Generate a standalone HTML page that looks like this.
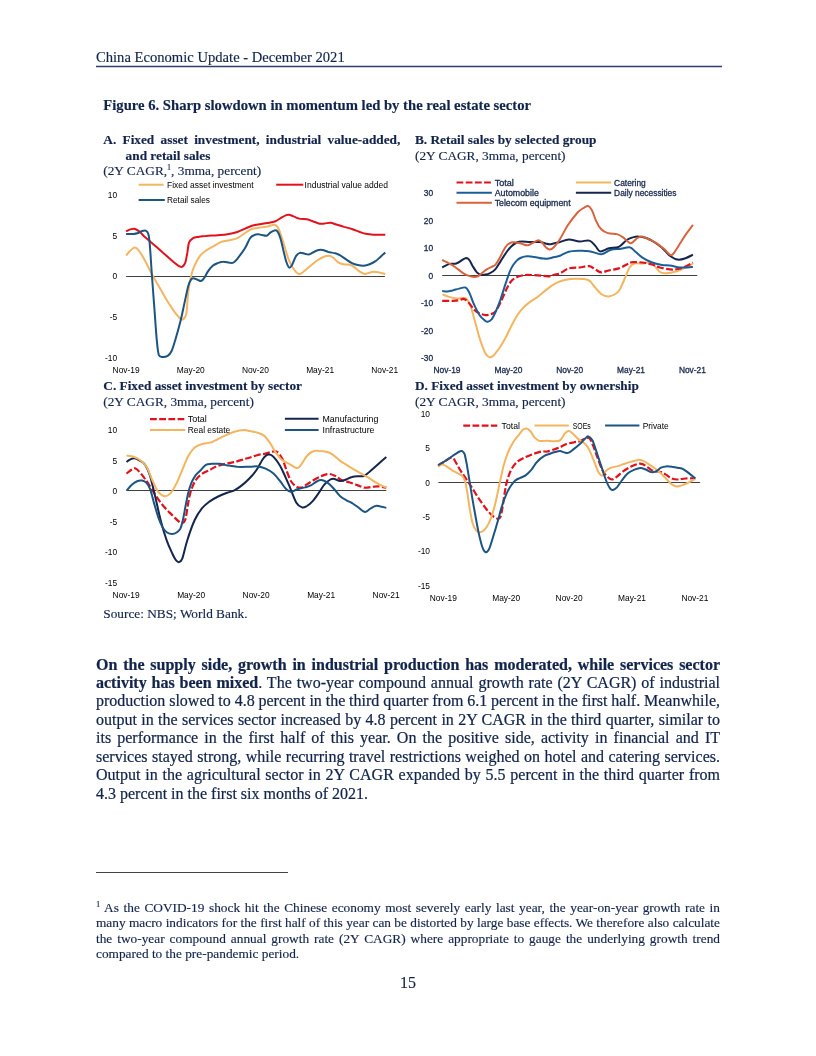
<!DOCTYPE html>
<html><head><meta charset="utf-8">
<style>
html,body{margin:0;padding:0;background:#fff;}
body{width:816px;height:1056px;position:relative;overflow:hidden;font-family:"Liberation Serif",serif;color:#12244b;-webkit-text-stroke:0.15px #12244b;}
.abs{position:absolute;white-space:nowrap;}
#hdr{left:96px;top:49px;font-size:14.62px;line-height:17px;}
#figtitle{left:103.3px;top:97px;font-size:14.67px;font-weight:bold;line-height:16px;}
.pt{position:absolute;font-size:13.3px;line-height:15.5px;}
.pt b{font-weight:bold;}
#body{-webkit-text-stroke:0.22px #12244b;position:absolute;left:96px;top:655.5px;width:624px;font-size:16px;line-height:18.45px;white-space:nowrap;}
#fnline{position:absolute;left:96px;top:872px;width:192px;height:1px;background:#444;}
#fn{position:absolute;left:96px;top:900px;width:624px;font-size:13.33px;line-height:15.3px;white-space:nowrap;}
#fn sup{font-size:8.5px;vertical-align:baseline;position:relative;top:-5px;line-height:0;}
#pg{left:400px;top:974px;font-size:16px;line-height:18px;}
svg text{font-family:"Liberation Sans","DejaVu Sans",sans-serif;}
</style></head><body>
<div id="hdr" class="abs">China Economic Update - December 2021</div>

<div id="figtitle" class="abs">Figure 6. Sharp slowdown in momentum led by the real estate sector</div>

<div class="pt" id="ta" style="left:103.3px;top:132px;width:297px;"><div style="text-align:justify;text-align-last:justify;font-weight:bold;">A. Fixed asset investment, industrial value-added,</div><div style="padding-left:22.3px;font-weight:bold;">and retail sales</div><div>(2Y CAGR,<sup style="font-size:8px;vertical-align:baseline;position:relative;top:-5px;">1</sup>, 3mma, percent)</div></div>
<div class="pt" id="tb" style="left:415px;top:132px;white-space:nowrap;"><div style="font-weight:bold;">B. Retail sales by selected group</div><div>(2Y CAGR, 3mma, percent)</div></div>
<div class="pt" id="tc" style="left:103.3px;top:378px;white-space:nowrap;"><div style="font-weight:bold;">C. Fixed asset investment by sector</div><div>(2Y CAGR, 3mma, percent)</div></div>
<div class="pt" id="td" style="left:415px;top:378px;white-space:nowrap;"><div style="font-weight:bold;">D. Fixed asset investment by ownership</div><div>(2Y CAGR, 3mma, percent)</div></div>
<div class="abs" id="src" style="left:103.3px;top:606px;font-size:13.3px;line-height:16px;">Source: NBS; World Bank.</div>

<svg id="rules" width="816" height="1056" style="position:absolute;left:0;top:0;"><line x1="96" y1="66.4" x2="722" y2="66.4" stroke="#2d3f6e" stroke-width="1.5"/></svg>
<svg id="charts" width="816" height="1056" style="position:absolute;left:0;top:0;">
<g id="chartA">
<line x1="126.1" y1="276.5" x2="384.9" y2="276.5" stroke="#404040" stroke-width="1.0"/>
<path d="M126.1,255.5C126.8,254.7 128.9,251.9 130.4,250.6C131.9,249.2 133.4,247.4 134.9,247.5C136.4,247.5 137.5,248.8 139.2,251.0C140.9,253.2 143.1,257.2 145.1,260.8C147.1,264.4 148.7,268.3 151.0,272.5C153.3,276.8 156.2,281.7 158.8,286.3C161.4,290.8 164.1,295.8 166.7,300.0C169.3,304.2 172.2,308.7 174.5,311.8C176.8,314.9 178.9,317.4 180.4,318.6C181.5,319.6 182.4,320.0 183.3,319.2C184.3,318.4 185.7,316.8 186.3,313.7C187.1,309.2 187.5,298.0 188.2,292.2C189.0,286.3 189.6,282.7 190.6,278.4C191.6,274.2 192.5,270.4 194.1,266.7C195.7,262.9 198.0,258.6 200.0,255.9C202.0,253.2 203.6,252.2 205.9,250.6C208.2,249.0 211.1,247.5 213.7,246.1C216.3,244.6 219.0,242.7 221.6,241.8C224.2,240.8 226.8,240.8 229.4,240.2C232.0,239.6 233.8,240.0 237.3,238.2C240.7,236.5 246.6,231.5 250.0,229.8C253.4,228.1 254.9,228.6 257.8,228.0C260.8,227.5 265.2,227.0 267.6,226.5C270.1,225.9 271.2,225.1 272.5,224.9C273.9,224.7 274.5,224.5 275.5,225.1C276.5,225.7 277.5,226.6 278.4,228.4C279.4,230.3 280.2,232.8 281.4,236.3C282.5,239.7 284.0,244.9 285.3,249.0C286.6,253.1 287.7,257.4 289.2,260.8C290.7,264.2 292.5,267.4 294.1,269.6C295.8,271.8 297.5,273.7 299.0,274.1C300.5,274.5 301.3,273.3 302.9,272.2C304.6,271.0 306.5,269.2 308.8,267.3C311.1,265.4 314.1,262.6 316.7,260.8C319.3,259.0 322.4,257.3 324.5,256.5C326.6,255.6 327.9,255.5 329.4,255.7C330.9,255.9 331.9,256.7 333.3,257.8C334.8,259.0 336.6,261.3 338.2,262.4C339.9,263.4 341.2,263.9 343.1,264.3C345.1,264.7 348.0,264.2 350.0,264.7C352.0,265.3 353.3,266.5 354.9,267.6C356.5,268.8 358.2,270.5 359.8,271.6C361.4,272.6 363.2,273.7 364.7,273.9C366.2,274.2 367.2,273.3 368.6,272.9C370.1,272.6 371.7,271.8 373.5,271.8C375.3,271.7 377.5,272.2 379.4,272.5C381.4,272.9 384.3,273.9 385.3,274.1" fill="none" stroke="#f3b55f" stroke-width="2.0" stroke-linejoin="round" stroke-linecap="butt"/>
<path d="M126.1,231.4C126.8,231.0 129.0,229.8 130.4,229.4C131.8,229.0 132.8,228.5 134.3,228.8C135.8,229.2 137.4,230.0 139.2,231.4C141.0,232.8 143.1,235.5 145.1,237.3C147.1,239.1 148.7,240.2 151.0,242.2C153.3,244.1 156.2,246.7 158.8,249.0C161.4,251.3 164.1,253.6 166.7,255.9C169.3,258.2 172.4,261.0 174.5,262.7C176.6,264.5 178.1,265.6 179.4,266.3C180.7,266.9 181.4,267.3 182.4,266.7C183.3,266.1 184.5,265.0 185.3,262.7C186.1,260.5 186.6,256.4 187.3,252.9C187.9,249.5 188.2,244.6 189.2,242.2C190.2,239.7 191.7,239.1 193.1,238.2C194.6,237.4 195.9,237.3 198.0,236.9C200.2,236.5 202.6,236.1 205.9,235.9C209.2,235.6 214.1,235.6 217.6,235.3C221.2,235.0 224.2,234.9 227.5,234.3C230.7,233.8 233.5,233.3 237.3,232.0C241.0,230.7 246.6,227.7 250.0,226.5C253.4,225.2 254.9,225.1 257.8,224.5C260.8,223.9 264.7,223.5 267.6,222.9C270.6,222.4 273.2,222.1 275.5,221.2C277.8,220.3 279.6,218.7 281.4,217.6C283.2,216.6 285.0,215.6 286.3,215.1C287.6,214.6 288.1,214.5 289.2,214.7C290.4,214.9 291.5,215.4 293.1,216.1C294.8,216.7 296.7,218.1 299.0,218.6C301.3,219.2 304.6,218.8 306.9,219.2C309.2,219.6 310.6,220.4 312.7,221.2C314.9,221.9 317.6,223.3 319.6,223.7C321.6,224.1 322.7,223.7 324.5,223.5C326.3,223.4 328.4,222.6 330.4,222.7C332.4,222.9 334.0,223.8 336.3,224.5C338.6,225.2 341.5,226.1 344.1,226.9C346.7,227.6 349.3,228.2 352.0,229.0C354.6,229.9 357.5,231.2 359.8,232.0C362.1,232.7 363.4,233.3 365.7,233.7C368.0,234.2 370.3,234.5 373.5,234.7C376.8,234.9 383.3,234.7 385.3,234.7" fill="none" stroke="#e2111c" stroke-width="2.0" stroke-linejoin="round" stroke-linecap="butt"/>
<path d="M126.1,233.9C127.3,233.9 131.5,234.0 133.3,233.9C135.2,233.8 135.8,233.8 137.3,233.3C138.7,232.8 140.7,231.4 142.2,231.0C143.6,230.6 145.0,230.2 146.1,230.8C147.1,231.3 147.9,232.3 148.4,234.3C149.1,237.0 149.5,240.7 150.0,247.1C150.6,254.1 151.2,266.0 152.0,276.5C152.7,286.9 153.7,299.0 154.5,309.8C155.3,320.6 156.1,333.7 156.9,341.2C157.5,348.1 158.0,352.3 158.8,354.9C159.4,356.6 160.3,356.7 161.8,356.9C163.2,357.0 166.0,356.9 167.6,355.9C169.3,354.9 170.3,353.8 171.6,351.0C172.9,348.2 174.0,344.1 175.5,339.2C177.0,334.3 178.9,327.5 180.4,321.6C181.9,315.7 183.0,309.8 184.3,303.9C185.6,298.0 187.1,290.4 188.2,286.3C189.2,282.7 190.2,280.7 191.2,279.4C192.1,278.2 193.0,278.3 194.1,278.4C195.3,278.5 196.9,279.6 198.0,280.0C199.2,280.4 200.0,281.2 201.0,281.0C202.0,280.7 202.8,280.0 203.9,278.4C205.1,276.9 206.4,273.7 207.8,271.6C209.3,269.4 211.1,267.1 212.7,265.7C214.4,264.3 215.8,263.8 217.6,263.1C219.4,262.5 221.6,261.8 223.5,261.8C225.5,261.7 227.8,262.6 229.4,262.7C231.0,262.9 232.0,263.4 233.3,262.7C234.6,262.1 235.5,261.0 237.3,258.8C239.2,256.4 243.0,251.5 245.1,248.0C247.2,244.6 248.5,240.4 250.0,238.2C251.4,236.2 252.6,235.9 253.9,235.3C255.2,234.6 256.5,234.4 257.8,234.3C259.2,234.2 260.3,234.7 261.8,234.9C263.2,235.1 265.2,236.1 266.7,235.7C268.1,235.3 269.3,233.2 270.6,232.4C271.9,231.5 273.4,230.6 274.5,230.4C275.7,230.2 276.5,230.1 277.5,231.4C278.4,232.7 279.4,235.1 280.4,238.2C281.4,241.3 282.4,246.1 283.3,250.0C284.3,253.9 285.3,258.8 286.3,261.8C287.3,264.7 288.2,267.2 289.2,267.6C290.2,268.1 291.1,266.5 292.2,264.7C293.3,262.7 294.8,257.8 296.1,255.9C297.4,253.9 298.5,253.3 300.0,252.9C301.5,252.6 303.4,253.5 304.9,253.7C306.4,254.0 307.4,254.8 308.8,254.5C310.3,254.2 312.1,252.7 313.7,252.0C315.4,251.2 317.2,250.3 318.6,250.0C320.1,249.7 320.9,249.7 322.5,250.0C324.2,250.3 326.3,251.4 328.4,252.0C330.6,252.5 333.3,252.8 335.3,253.3C337.3,253.9 338.4,254.3 340.2,255.3C342.0,256.3 344.1,258.1 346.1,259.4C348.0,260.7 350.0,262.2 352.0,263.1C353.9,264.1 355.9,264.7 357.8,265.1C359.8,265.5 361.8,265.8 363.7,265.7C365.7,265.6 367.6,265.1 369.6,264.3C371.6,263.6 373.7,262.4 375.5,261.2C377.3,259.9 378.8,258.3 380.4,256.9C382.0,255.4 384.5,253.1 385.3,252.4" fill="none" stroke="#1c5482" stroke-width="2.0" stroke-linejoin="round" stroke-linecap="butt"/>
<line x1="138.6" y1="184.7" x2="163.6" y2="184.7" stroke="#f3b55f" stroke-width="2.0"/>
<text x="167.0" y="187.7" font-size="8.4" text-anchor="start" fill="#000" textLength="86.6" lengthAdjust="spacingAndGlyphs">Fixed asset investment</text>
<line x1="276.2" y1="184.7" x2="303.3" y2="184.7" stroke="#e2111c" stroke-width="2.0"/>
<text x="304.6" y="187.7" font-size="8.4" text-anchor="start" fill="#000" textLength="83.5" lengthAdjust="spacingAndGlyphs">Industrial value added</text>
<line x1="138.6" y1="200.0" x2="164.8" y2="200.0" stroke="#1c5482" stroke-width="2.0"/>
<text x="167.0" y="203.0" font-size="8.4" text-anchor="start" fill="#000" textLength="42.9" lengthAdjust="spacingAndGlyphs">Retail sales</text>
<text x="117.2" y="198.0" font-size="8.4" text-anchor="end" fill="#000">10</text>
<text x="117.2" y="238.7" font-size="8.4" text-anchor="end" fill="#000">5</text>
<text x="117.2" y="279.4" font-size="8.4" text-anchor="end" fill="#000">0</text>
<text x="117.2" y="320.1" font-size="8.4" text-anchor="end" fill="#000">-5</text>
<text x="117.2" y="360.8" font-size="8.4" text-anchor="end" fill="#000">-10</text>
<text x="126.1" y="373.2" font-size="8.4" text-anchor="middle" fill="#000">Nov-19</text>
<text x="190.8" y="373.2" font-size="8.4" text-anchor="middle" fill="#000">May-20</text>
<text x="255.4" y="373.2" font-size="8.4" text-anchor="middle" fill="#000">Nov-20</text>
<text x="320.1" y="373.2" font-size="8.4" text-anchor="middle" fill="#000">May-21</text>
<text x="384.7" y="373.2" font-size="8.4" text-anchor="middle" fill="#000">Nov-21</text>
</g>
<g id="chartB">
<line x1="442.2" y1="275.5" x2="697.3" y2="275.5" stroke="#404040" stroke-width="1.0"/>
<path d="M442.5,294.4C443.6,294.8 446.8,296.2 449.1,296.9C451.4,297.6 454.1,298.2 456.5,298.4C458.8,298.6 461.4,298.0 463.1,298.1C464.8,298.2 465.5,297.8 466.8,299.1C468.0,300.4 469.2,302.5 470.4,305.7C471.7,308.9 472.8,313.5 474.1,318.2C475.5,323.0 477.1,329.5 478.5,334.4C480.0,339.3 481.6,344.3 482.9,347.6C484.2,351.0 485.1,353.1 486.3,354.7C487.5,356.3 488.7,357.3 490.0,357.4C491.3,357.4 492.7,356.2 494.0,355.0C495.2,353.8 496.5,351.8 497.6,350.3C498.8,348.8 499.3,348.3 500.6,346.2C502.1,343.8 504.5,339.6 506.5,335.9C508.4,332.2 510.4,327.8 512.4,324.1C514.3,320.4 516.4,316.6 518.2,313.8C520.1,311.1 521.7,309.4 523.5,307.5C525.4,305.6 527.0,304.2 529.4,302.4C531.9,300.5 535.3,298.7 538.2,296.5C541.2,294.3 544.1,291.3 547.1,289.1C550.0,286.9 552.9,284.8 555.9,283.2C558.8,281.7 561.3,280.7 564.7,280.0C568.1,279.3 572.5,278.8 576.5,278.8C580.4,278.8 585.3,278.8 588.2,280.0C591.2,281.2 591.9,283.8 594.1,286.2C596.3,288.6 599.0,292.5 601.5,294.3C603.9,296.0 606.4,296.6 608.8,296.5C611.3,296.3 614.3,294.8 616.2,293.5C618.0,292.3 618.6,291.7 620.0,289.1C621.6,286.2 624.1,279.9 625.7,276.3C627.3,272.7 628.1,269.6 629.6,267.5C631.1,265.3 632.4,264.2 634.5,263.5C636.6,262.9 640.1,263.7 642.4,263.5C644.6,263.4 646.3,262.2 648.2,262.5C650.2,262.9 652.2,263.9 654.1,265.5C656.1,267.1 658.2,270.7 660.0,272.0C661.8,273.3 662.9,273.3 664.9,273.3C666.9,273.4 669.3,272.8 671.8,272.4C674.2,271.9 677.0,271.4 679.6,270.4C682.2,269.4 685.2,267.6 687.5,266.5C689.7,265.3 692.0,264.0 692.9,263.5" fill="none" stroke="#f3b55f" stroke-width="2.0" stroke-linejoin="round" stroke-linecap="butt"/>
<path d="M442.2,300.8C443.9,300.8 449.9,300.9 452.7,300.8C455.6,300.7 457.4,300.5 459.2,300.2C461.0,299.9 462.1,298.6 463.5,298.8C465.0,299.1 466.3,300.0 468.0,301.8C469.8,303.6 472.2,307.6 474.1,309.6C476.1,311.6 477.9,312.6 479.8,313.5C481.7,314.4 483.7,315.0 485.7,315.1C487.6,315.2 490.0,314.5 491.6,313.9C493.2,313.3 493.9,313.3 495.3,311.6C496.8,309.7 498.6,306.3 500.4,302.7C502.2,299.2 504.3,293.6 506.1,290.0C507.9,286.4 509.4,283.3 511.2,281.2C512.9,279.1 514.9,278.2 516.7,277.3C518.5,276.3 520.2,275.9 522.0,275.5C523.7,275.1 524.6,274.9 527.3,274.9C529.9,274.9 534.3,275.1 537.8,275.3C541.4,275.5 545.9,276.4 548.6,276.3C551.4,276.2 552.4,275.2 554.3,274.7C556.2,274.2 557.6,274.4 560.0,273.3C562.4,272.3 565.6,269.4 568.8,268.4C572.1,267.5 576.2,267.8 579.6,267.5C583.0,267.1 586.8,265.8 589.4,266.1C592.0,266.4 593.3,268.4 595.3,269.4C597.3,270.5 598.9,272.2 601.2,272.4C603.5,272.5 606.1,271.0 609.0,270.4C612.0,269.7 615.9,269.4 618.8,268.4C621.8,267.5 624.4,265.6 626.7,264.5C629.0,263.5 629.9,262.5 632.5,262.2C635.2,261.8 639.1,262.2 642.4,262.5C645.6,262.9 649.2,263.7 652.2,264.5C655.1,265.3 657.1,266.6 660.0,267.5C662.9,268.3 666.9,269.2 669.8,269.4C672.7,269.7 675.0,269.5 677.6,269.0C680.3,268.5 682.9,267.5 685.5,266.5C688.0,265.4 691.7,263.2 692.9,262.5" fill="none" stroke="#e2111c" stroke-width="2.2" stroke-linejoin="round" stroke-linecap="butt" stroke-dasharray="6.8,2.4"/>
<path d="M442.2,291.0C443.0,291.0 445.7,291.5 447.5,291.4C449.2,291.3 450.8,290.8 452.7,290.4C454.7,289.9 457.1,289.1 459.2,288.6C461.3,288.1 463.9,286.9 465.5,287.5C467.1,288.0 467.7,289.4 469.0,292.0C470.5,294.8 472.3,300.8 474.1,304.7C475.9,308.6 478.0,312.9 479.8,315.5C481.6,318.1 483.4,319.3 484.7,320.4C486.0,321.4 486.5,321.9 487.6,321.8C488.8,321.6 490.3,320.9 491.6,319.4C492.8,317.9 493.8,315.8 495.3,312.5C496.8,309.3 498.6,304.9 500.4,299.8C502.2,294.7 504.3,287.4 506.1,282.2C507.9,276.9 509.4,272.0 511.2,268.4C512.9,264.8 514.9,262.5 516.7,260.6C518.5,258.7 520.2,258.0 522.0,257.3C523.7,256.5 525.5,256.4 527.3,256.3C529.1,256.2 531.0,256.4 532.7,256.7C534.5,256.9 536.0,257.3 537.8,257.6C539.6,258.0 541.7,258.5 543.5,258.6C545.3,258.8 546.8,258.9 548.6,258.6C550.4,258.4 552.4,257.5 554.3,257.1C556.2,256.6 557.6,256.6 560.0,255.7C562.4,254.8 565.6,252.6 568.8,251.8C572.1,250.9 576.2,250.9 579.6,250.8C583.0,250.7 586.6,250.8 589.4,251.2C592.2,251.6 594.2,252.6 596.3,253.1C598.4,253.6 599.7,254.7 602.2,254.1C604.6,253.6 607.9,250.7 611.0,249.8C614.1,248.9 617.7,249.2 620.8,248.8C623.9,248.4 627.2,246.8 629.6,247.3C632.1,247.7 633.4,250.0 635.5,251.8C637.6,253.5 639.6,255.8 642.4,257.6C645.1,259.4 648.9,261.3 652.2,262.5C655.4,263.8 659.0,264.4 662.0,264.9C664.9,265.4 666.9,265.1 669.8,265.5C672.7,265.9 676.7,267.1 679.6,267.5C682.5,267.8 685.2,267.5 687.5,267.5C689.7,267.4 692.0,267.0 692.9,266.9" fill="none" stroke="#1c5d96" stroke-width="2.0" stroke-linejoin="round" stroke-linecap="butt"/>
<path d="M442.2,267.5C443.4,266.9 447.1,264.6 449.4,263.9C451.8,263.3 454.2,264.2 456.3,263.5C458.4,262.9 460.5,260.9 462.2,260.0C463.8,259.1 464.9,258.1 466.1,258.0C467.2,258.0 468.0,258.3 469.0,259.6C470.2,261.0 471.6,264.3 472.9,266.5C474.2,268.6 475.6,270.9 476.9,272.4C478.2,273.8 479.5,274.5 480.8,274.9C482.1,275.3 483.2,275.0 484.7,274.7C486.2,274.4 487.8,274.2 489.6,273.3C491.4,272.5 493.5,271.4 495.3,269.4C497.1,267.5 498.6,264.3 500.4,261.6C502.2,258.8 504.3,255.3 506.1,252.7C507.9,250.2 509.4,248.2 511.2,246.5C512.9,244.8 514.9,243.4 516.7,242.5C518.5,241.7 519.8,241.5 522.0,241.4C524.2,241.3 526.9,241.9 529.8,242.0C532.7,242.1 537.0,241.7 539.6,242.0C542.2,242.2 543.9,243.1 545.5,243.5C547.1,243.9 547.9,244.3 549.4,244.3C550.9,244.3 552.5,243.7 554.3,243.3C556.1,242.9 557.6,242.6 560.0,242.0C562.4,241.3 565.6,239.5 568.8,239.4C572.1,239.3 576.2,241.2 579.6,241.4C583.0,241.6 586.8,239.8 589.4,240.6C592.0,241.3 593.5,244.1 595.3,245.9C597.1,247.7 597.9,251.0 600.2,251.4C602.5,251.8 605.9,249.0 609.0,248.2C612.1,247.5 615.9,248.2 618.8,246.9C621.8,245.5 624.2,241.6 626.7,240.0C629.1,238.4 631.6,237.6 633.5,237.1C635.5,236.5 636.3,236.3 638.4,236.5C640.6,236.6 643.7,237.1 646.3,238.0C648.9,239.0 651.5,240.3 654.1,242.0C656.7,243.6 659.3,245.6 662.0,247.8C664.6,250.1 667.2,253.7 669.8,255.7C672.4,257.6 675.0,259.2 677.6,259.6C680.3,260.0 682.9,259.1 685.5,258.2C688.0,257.4 691.7,255.3 692.9,254.7" fill="none" stroke="#14264d" stroke-width="2.0" stroke-linejoin="round" stroke-linecap="butt"/>
<path d="M442.2,260.0C443.0,260.4 445.7,261.6 447.5,262.5C449.2,263.5 450.9,264.3 452.7,265.5C454.5,266.6 456.4,268.1 458.2,269.4C460.0,270.7 461.7,272.3 463.5,273.3C465.3,274.4 467.3,275.3 469.0,275.9C470.8,276.5 472.6,276.8 474.1,276.9C475.6,276.9 476.6,276.9 477.8,276.3C479.1,275.7 480.3,274.5 481.8,273.3C483.2,272.2 485.0,270.5 486.7,269.4C488.3,268.3 490.1,267.6 491.6,266.9C493.0,266.1 494.0,266.3 495.3,264.9C496.6,263.5 498.1,261.0 499.4,258.6C500.8,256.3 502.0,253.1 503.3,250.8C504.6,248.5 505.9,246.3 507.3,244.9C508.6,243.5 509.7,243.0 511.2,242.5C512.6,242.1 514.3,242.1 516.1,242.4C517.9,242.6 520.0,243.4 522.0,243.9C523.9,244.4 526.0,245.5 527.8,245.3C529.6,245.1 531.1,243.8 532.7,242.9C534.4,242.1 536.2,240.6 537.6,240.4C539.1,240.2 540.3,240.9 541.6,242.0C542.9,243.0 544.2,245.6 545.5,246.9C546.8,248.1 548.1,249.2 549.4,249.4C550.7,249.6 551.8,249.3 553.3,247.8C555.1,246.1 557.6,242.8 560.0,239.0C562.4,235.3 564.9,229.7 567.8,225.3C570.8,220.9 575.0,215.4 577.6,212.5C580.1,209.8 581.7,209.1 583.5,208.0C585.3,207.0 587.0,205.6 588.4,206.1C589.9,206.6 591.0,208.6 592.4,211.2C593.7,213.7 594.8,218.4 596.3,221.4C597.7,224.4 599.2,227.3 601.2,229.2C603.1,231.2 605.4,232.3 608.0,233.1C610.7,234.0 614.4,233.5 616.9,234.1C619.3,234.8 621.0,235.9 622.7,237.1C624.4,238.2 625.8,239.9 627.1,241.0C628.4,242.0 629.4,243.3 630.6,243.3C631.8,243.3 633.0,241.9 634.1,241.0C635.3,240.1 636.1,238.8 637.5,238.0C638.8,237.3 640.6,236.3 642.4,236.5C644.2,236.6 645.9,237.9 648.2,239.0C650.5,240.1 653.5,241.3 656.1,242.9C658.7,244.6 662.0,247.3 663.9,248.8C665.8,250.4 666.3,251.3 667.5,252.4C668.6,253.4 669.9,255.2 671.0,255.3C672.1,255.4 673.2,253.8 674.1,252.7C675.1,251.7 675.4,250.8 676.7,248.8C677.9,246.9 679.8,243.8 681.6,241.0C683.4,238.2 685.6,234.8 687.5,232.2C689.3,229.5 692.0,226.1 692.9,224.9" fill="none" stroke="#d9633c" stroke-width="2.0" stroke-linejoin="round" stroke-linecap="butt"/>
<line x1="456.5" y1="182.5" x2="491.9" y2="182.5" stroke="#e2111c" stroke-width="2.2" stroke-dasharray="6.8,2.4"/>
<text x="494.7" y="185.5" font-size="8.4" text-anchor="start" fill="#1a2a4e" textLength="19.1" lengthAdjust="spacingAndGlyphs" stroke="#1a2a4e" stroke-width="0.3">Total</text>
<line x1="456.5" y1="192.8" x2="491.9" y2="192.8" stroke="#1c5d96" stroke-width="2.0"/>
<text x="494.7" y="195.8" font-size="8.4" text-anchor="start" fill="#1a2a4e" textLength="44.1" lengthAdjust="spacingAndGlyphs" stroke="#1a2a4e" stroke-width="0.3">Automobile</text>
<line x1="456.5" y1="202.8" x2="491.9" y2="202.8" stroke="#d9633c" stroke-width="2.0"/>
<text x="494.7" y="205.8" font-size="8.4" text-anchor="start" fill="#1a2a4e" textLength="75.9" lengthAdjust="spacingAndGlyphs" stroke="#1a2a4e" stroke-width="0.3">Telecom equipment</text>
<line x1="575.9" y1="182.5" x2="611.2" y2="182.5" stroke="#f3b55f" stroke-width="2.0"/>
<text x="614.1" y="185.5" font-size="8.4" text-anchor="start" fill="#1a2a4e" stroke="#1a2a4e" stroke-width="0.3">Catering</text>
<line x1="575.9" y1="192.8" x2="611.2" y2="192.8" stroke="#14264d" stroke-width="2.0"/>
<text x="614.1" y="195.8" font-size="8.4" text-anchor="start" fill="#1a2a4e" stroke="#1a2a4e" stroke-width="0.3">Daily necessities</text>
<text x="433.2" y="195.9" font-size="8.4" text-anchor="end" fill="#1a2a4e" stroke="#1a2a4e" stroke-width="0.3">30</text>
<text x="433.2" y="223.5" font-size="8.4" text-anchor="end" fill="#1a2a4e" stroke="#1a2a4e" stroke-width="0.3">20</text>
<text x="433.2" y="251.0" font-size="8.4" text-anchor="end" fill="#1a2a4e" stroke="#1a2a4e" stroke-width="0.3">10</text>
<text x="433.2" y="278.6" font-size="8.4" text-anchor="end" fill="#1a2a4e" stroke="#1a2a4e" stroke-width="0.3">0</text>
<text x="433.2" y="306.1" font-size="8.4" text-anchor="end" fill="#1a2a4e" stroke="#1a2a4e" stroke-width="0.3">-10</text>
<text x="433.2" y="333.6" font-size="8.4" text-anchor="end" fill="#1a2a4e" stroke="#1a2a4e" stroke-width="0.3">-20</text>
<text x="433.2" y="361.1" font-size="8.4" text-anchor="end" fill="#1a2a4e" stroke="#1a2a4e" stroke-width="0.3">-30</text>
<text x="447.0" y="372.6" font-size="8.4" text-anchor="middle" fill="#1a2a4e" stroke="#1a2a4e" stroke-width="0.3">Nov-19</text>
<text x="508.4" y="372.6" font-size="8.4" text-anchor="middle" fill="#1a2a4e" stroke="#1a2a4e" stroke-width="0.3">May-20</text>
<text x="569.7" y="372.6" font-size="8.4" text-anchor="middle" fill="#1a2a4e" stroke="#1a2a4e" stroke-width="0.3">Nov-20</text>
<text x="631.0" y="372.6" font-size="8.4" text-anchor="middle" fill="#1a2a4e" stroke="#1a2a4e" stroke-width="0.3">May-21</text>
<text x="692.4" y="372.6" font-size="8.4" text-anchor="middle" fill="#1a2a4e" stroke="#1a2a4e" stroke-width="0.3">Nov-21</text>
</g>
<g id="chartC">
<line x1="126.5" y1="490.5" x2="386.3" y2="490.5" stroke="#404040" stroke-width="1.0"/>
<path d="M126.5,473.6C127.3,473.0 130.0,470.6 131.4,469.7C132.8,468.8 133.6,468.0 134.9,468.3C136.2,468.6 137.4,469.7 139.1,471.5C140.8,473.2 143.0,476.1 145.0,478.8C147.0,481.5 148.9,484.6 150.9,487.6C152.8,490.7 154.6,494.0 156.8,497.2C159.0,500.4 161.4,503.7 164.1,506.8C166.8,509.9 170.5,513.4 172.9,515.9C175.4,518.3 177.2,520.3 178.8,521.5C180.4,522.6 181.4,523.3 182.5,522.9C183.6,522.6 184.7,521.5 185.4,519.3C186.2,516.8 186.7,512.0 187.4,508.2C188.0,504.4 188.6,500.0 189.4,496.5C190.2,492.9 191.2,489.8 192.4,486.9C193.5,484.0 194.8,481.3 196.5,479.1C198.1,476.9 200.1,475.2 202.4,473.7C204.6,472.2 207.5,471.2 209.7,470.0C211.9,468.8 213.1,467.8 215.7,466.8C218.3,465.7 222.2,464.6 225.5,463.8C228.8,463.0 232.0,462.7 235.3,461.9C238.6,461.0 242.6,459.6 245.1,458.9C247.5,458.2 247.9,458.2 250.0,457.5C252.1,456.9 255.2,455.7 257.8,455.0C260.5,454.3 263.2,454.2 265.7,453.6C268.1,453.1 270.6,451.9 272.5,451.7C274.5,451.4 275.8,450.8 277.5,452.1C279.1,453.3 280.9,456.0 282.4,458.9C283.8,461.9 284.8,465.9 286.3,469.7C287.7,473.5 289.4,478.6 291.2,481.5C293.0,484.3 295.3,486.0 297.1,487.0C298.9,487.9 300.3,487.8 302.0,487.4C303.6,486.9 304.7,485.7 306.9,484.4C309.0,483.1 312.1,481.0 314.7,479.5C317.3,478.0 320.1,476.5 322.5,475.6C325.0,474.7 327.3,474.0 329.4,474.0C331.5,474.1 333.2,474.9 335.3,476.0C337.4,477.1 339.7,479.4 342.2,480.5C344.6,481.6 347.4,481.6 350.0,482.5C352.6,483.3 355.4,484.5 357.8,485.4C360.3,486.3 362.4,487.5 364.7,487.7C367.0,488.0 369.3,487.2 371.6,487.0C373.9,486.7 376.0,486.2 378.4,486.4C380.9,486.5 385.0,487.5 386.3,487.7" fill="none" stroke="#e2111c" stroke-width="2.2" stroke-linejoin="round" stroke-linecap="butt" stroke-dasharray="6.8,2.4"/>
<path d="M126.5,461.9C127.1,461.4 129.1,459.9 130.4,459.3C131.7,458.7 132.8,458.2 134.3,458.3C135.8,458.5 137.4,459.2 139.2,460.3C141.0,461.4 143.3,462.3 145.1,464.8C146.9,467.4 148.4,470.5 150.0,475.6C151.6,480.7 153.1,487.7 154.9,495.2C156.7,502.7 158.8,513.2 160.8,520.7C162.7,528.2 164.7,534.7 166.7,540.3C168.6,545.8 171.0,550.7 172.5,554.0C174.0,557.2 174.8,558.8 175.9,560.1C177.0,561.4 177.9,562.4 179.0,562.1C180.1,561.8 181.5,560.7 182.4,558.3C183.7,554.7 185.3,546.4 187.4,540.0C189.4,533.6 192.3,525.3 194.7,520.0C197.2,514.7 199.6,511.3 202.1,508.2C204.5,505.2 206.7,503.6 209.4,501.6C212.1,499.7 215.3,497.9 218.2,496.5C221.2,495.0 224.4,493.8 227.1,492.8C229.8,491.8 232.0,491.5 234.4,490.3C236.9,489.1 239.3,487.4 241.8,485.4C244.2,483.5 246.7,481.4 249.1,478.8C251.6,476.2 254.3,473.2 256.5,470.0C258.7,466.8 260.8,462.1 262.4,459.7C263.9,457.4 264.9,456.4 266.0,455.6C267.1,454.7 267.9,454.5 269.0,454.6C270.1,454.6 271.3,454.9 272.6,456.0C274.0,457.1 275.6,459.1 277.1,461.2C278.5,463.3 279.6,464.7 281.5,468.5C283.4,472.5 286.4,479.1 288.8,484.7C291.3,490.3 294.0,498.6 296.2,502.4C298.1,505.7 300.2,506.7 302.0,507.4C303.7,508.0 305.1,507.0 306.9,506.0C308.7,504.9 310.8,503.2 312.7,501.1C314.7,499.0 316.7,496.0 318.6,493.2C320.6,490.5 322.5,486.7 324.5,484.4C326.5,482.1 328.8,480.4 330.4,479.5C332.0,478.6 332.7,478.7 334.3,478.9C335.9,479.2 338.2,481.0 340.2,481.1C342.2,481.2 344.1,480.2 346.1,479.5C348.0,478.8 350.0,477.5 352.0,477.0C353.9,476.4 355.9,476.3 357.8,476.2C359.8,476.0 361.8,476.7 363.7,476.0C365.7,475.2 367.3,473.5 369.6,471.7C371.9,469.8 374.7,467.3 377.5,464.8C380.2,462.4 384.8,458.3 386.3,457.0" fill="none" stroke="#14264d" stroke-width="2.0" stroke-linejoin="round" stroke-linecap="butt"/>
<path d="M126.6,490.6C127.5,489.6 129.9,486.3 131.8,484.7C133.6,483.1 135.9,481.7 137.6,481.0C139.4,480.3 140.6,480.3 142.1,480.6C143.5,480.9 145.1,481.5 146.5,482.9C147.8,484.4 148.9,485.9 150.1,489.1C151.4,492.4 152.5,497.7 153.8,502.4C155.2,507.0 156.8,512.9 158.2,517.1C159.7,521.2 161.2,524.8 162.6,527.4C164.1,529.9 165.5,531.4 167.1,532.5C168.7,533.6 170.6,534.0 172.2,534.0C173.8,534.0 175.3,533.4 176.6,532.5C178.0,531.6 179.2,530.9 180.3,528.8C181.3,526.7 182.1,523.7 182.9,520.0C183.8,516.3 184.6,511.1 185.4,506.8C186.3,502.5 187.0,498.2 187.9,494.3C188.9,490.3 190.0,486.4 191.3,483.2C192.6,480.0 194.1,477.4 195.7,475.1C197.3,472.9 199.2,471.7 200.9,470.0C202.6,468.3 204.1,465.8 205.9,464.8C207.7,463.8 209.5,464.0 211.8,463.8C214.1,463.7 217.0,463.6 219.6,463.8C222.2,464.1 224.5,464.9 227.5,465.4C230.4,465.9 233.5,466.5 237.3,466.8C241.0,467.0 246.6,466.8 250.0,466.8C253.4,466.7 255.2,466.0 257.8,466.4C260.5,466.7 263.1,467.5 265.7,468.7C268.3,469.9 271.1,471.5 273.5,473.6C276.0,475.8 278.3,478.9 280.4,481.5C282.5,484.1 284.5,487.6 286.3,489.3C288.1,491.0 289.4,491.9 291.2,491.9C293.0,491.9 294.8,490.1 297.1,489.3C299.3,488.6 302.6,488.0 304.9,487.4C307.2,486.7 308.8,486.4 310.8,485.4C312.7,484.4 314.9,482.4 316.7,481.5C318.5,480.6 319.6,479.8 321.6,480.1C323.5,480.4 326.3,481.9 328.4,483.4C330.6,485.0 332.4,487.2 334.3,489.3C336.3,491.4 338.2,494.4 340.2,496.2C342.2,498.0 344.1,499.0 346.1,500.1C348.0,501.2 350.0,501.9 352.0,503.0C353.9,504.2 356.0,505.7 357.8,507.0C359.6,508.3 361.4,510.1 362.7,510.9C364.1,511.7 364.4,512.3 365.7,511.9C367.0,511.5 369.0,509.5 370.6,508.5C372.2,507.5 373.9,506.3 375.5,506.0C377.1,505.6 378.6,506.0 380.4,506.4C382.2,506.7 385.3,507.7 386.3,507.9" fill="none" stroke="#1c5482" stroke-width="2.0" stroke-linejoin="round" stroke-linecap="butt"/>
<path d="M126.5,455.6C127.8,455.8 131.9,456.1 134.3,457.0C136.8,457.8 139.1,459.1 141.2,460.9C143.3,462.7 145.3,464.6 147.1,467.7C148.9,470.8 150.2,475.6 152.0,479.5C153.8,483.4 155.7,488.5 157.8,491.3C160.0,494.1 162.6,495.8 164.7,496.2C166.8,496.5 168.6,495.4 170.6,493.2C172.5,491.1 174.5,487.4 176.5,483.4C178.4,479.5 180.4,474.3 182.4,469.7C184.3,465.1 186.3,459.6 188.2,456.0C190.2,452.4 192.2,450.0 194.1,448.1C196.1,446.3 198.0,445.6 200.0,444.8C202.0,444.0 203.9,443.7 205.9,443.2C207.8,442.8 209.8,442.9 211.8,442.3C213.7,441.6 215.4,440.5 217.6,439.3C219.9,438.2 222.5,436.7 225.5,435.4C228.4,434.1 232.2,432.4 235.3,431.5C238.4,430.6 241.7,430.2 244.1,430.1C246.6,430.0 247.9,430.7 250.0,431.1C252.1,431.5 254.6,431.7 256.9,432.5C259.2,433.2 261.6,433.8 263.7,435.4C265.8,437.0 267.6,439.5 269.6,442.3C271.6,445.0 273.5,449.2 275.5,452.1C277.5,454.9 279.1,457.5 281.4,459.5C283.7,461.5 286.6,462.4 289.2,463.8C291.8,465.3 295.1,468.0 297.1,468.1C299.0,468.3 299.4,466.8 301.0,464.8C302.6,462.8 304.9,458.2 306.9,456.0C308.8,453.8 310.8,452.3 312.7,451.5C314.7,450.6 316.3,450.8 318.6,450.9C320.9,450.9 324.2,451.1 326.5,451.7C328.8,452.3 330.1,452.9 332.4,454.4C334.6,455.9 337.6,459.0 340.2,460.9C342.8,462.8 345.1,464.0 348.0,465.8C351.0,467.6 354.6,469.8 357.8,471.7C361.1,473.6 364.4,475.2 367.6,477.2C370.9,479.1 374.3,481.7 377.5,483.4C380.6,485.2 384.8,487.0 386.3,487.7" fill="none" stroke="#f3b55f" stroke-width="2.0" stroke-linejoin="round" stroke-linecap="butt"/>
<line x1="150.0" y1="419.1" x2="184.3" y2="419.1" stroke="#e2111c" stroke-width="2.2" stroke-dasharray="6.8,2.4"/>
<text x="187.8" y="422.1" font-size="8.4" text-anchor="start" fill="#000" textLength="19.0" lengthAdjust="spacingAndGlyphs">Total</text>
<line x1="150.0" y1="430.1" x2="185.3" y2="430.1" stroke="#f3b55f" stroke-width="2.0"/>
<text x="187.8" y="433.1" font-size="8.4" text-anchor="start" fill="#000">Real estate</text>
<line x1="284.9" y1="418.7" x2="318.6" y2="418.7" stroke="#14264d" stroke-width="2.0"/>
<text x="322.5" y="421.7" font-size="8.4" text-anchor="start" fill="#000" textLength="55.9" lengthAdjust="spacingAndGlyphs">Manufacturing</text>
<line x1="284.9" y1="430.1" x2="318.6" y2="430.1" stroke="#1c5482" stroke-width="2.0"/>
<text x="322.5" y="433.1" font-size="8.4" text-anchor="start" fill="#000" textLength="52.0" lengthAdjust="spacingAndGlyphs">Infrastructure</text>
<text x="117.2" y="433.1" font-size="8.4" text-anchor="end" fill="#000">10</text>
<text x="117.2" y="463.6" font-size="8.4" text-anchor="end" fill="#000">5</text>
<text x="117.2" y="494.1" font-size="8.4" text-anchor="end" fill="#000">0</text>
<text x="117.2" y="524.7" font-size="8.4" text-anchor="end" fill="#000">-5</text>
<text x="117.2" y="555.2" font-size="8.4" text-anchor="end" fill="#000">-10</text>
<text x="117.2" y="585.8" font-size="8.4" text-anchor="end" fill="#000">-15</text>
<text x="126.1" y="598.2" font-size="8.4" text-anchor="middle" fill="#000">Nov-19</text>
<text x="191.1" y="598.2" font-size="8.4" text-anchor="middle" fill="#000">May-20</text>
<text x="256.1" y="598.2" font-size="8.4" text-anchor="middle" fill="#000">Nov-20</text>
<text x="321.1" y="598.2" font-size="8.4" text-anchor="middle" fill="#000">May-21</text>
<text x="386.1" y="598.2" font-size="8.4" text-anchor="middle" fill="#000">Nov-21</text>
</g>
<g id="chartD">
<line x1="438.4" y1="482.5" x2="700.2" y2="482.5" stroke="#404040" stroke-width="1.0"/>
<path d="M438.1,465.9C439.2,465.1 442.6,462.8 444.7,461.5C446.8,460.1 449.1,458.3 450.6,457.8C452.0,457.3 452.6,457.3 453.5,458.5C455.0,460.4 457.5,465.6 459.4,468.8C461.4,472.0 463.3,474.7 465.3,477.6C467.3,480.6 469.0,483.0 471.2,486.5C473.4,489.9 476.1,494.6 478.5,498.2C481.0,501.9 483.7,505.7 485.9,508.5C488.1,511.3 489.8,513.4 491.8,515.1C493.7,516.9 496.2,518.6 497.6,518.8C499.1,519.1 499.9,518.3 500.6,516.6C501.4,514.4 502.1,509.9 502.8,505.6C503.5,501.3 504.3,495.0 505.0,490.9C505.7,486.7 506.2,484.0 507.2,480.6C508.2,477.2 509.3,473.4 510.9,470.3C512.5,467.2 514.6,464.3 516.8,462.2C519.0,460.1 521.4,459.1 524.1,457.8C526.8,456.4 530.0,455.2 532.9,454.1C535.9,453.1 539.4,451.9 541.8,451.5C544.2,451.0 545.0,451.9 547.3,451.5C549.5,451.1 553.0,449.8 555.1,449.1C557.2,448.4 558.2,448.0 560.0,447.2C561.8,446.3 563.6,445.0 565.9,444.2C568.2,443.4 571.4,442.7 573.7,442.3C576.0,441.8 577.6,441.9 579.6,441.3C581.6,440.6 583.9,438.8 585.5,438.3C587.1,437.8 588.1,437.0 589.4,438.3C590.7,439.6 592.0,443.1 593.3,446.2C594.6,449.3 595.8,453.0 597.3,457.0C598.7,460.9 600.5,466.4 602.2,469.7C603.8,473.0 605.4,474.9 607.1,476.6C608.7,478.2 610.3,479.5 612.0,479.5C613.6,479.5 615.1,477.9 616.9,476.6C618.7,475.3 620.5,473.3 622.7,471.7C625.0,470.0 628.0,468.1 630.6,466.8C633.2,465.5 636.3,464.2 638.4,463.8C640.6,463.4 641.7,463.8 643.3,464.4C645.0,465.1 646.4,466.6 648.2,467.7C650.0,468.9 652.2,470.6 654.1,471.3C656.1,471.9 658.0,471.1 660.0,471.7C662.0,472.2 663.9,473.5 665.9,474.6C667.8,475.8 669.8,477.7 671.8,478.5C673.7,479.3 675.4,479.5 677.6,479.5C679.9,479.5 682.5,478.8 685.5,478.5C688.4,478.3 693.7,478.2 695.3,478.1" fill="none" stroke="#e2111c" stroke-width="2.2" stroke-linejoin="round" stroke-linecap="butt" stroke-dasharray="6.8,2.4"/>
<path d="M438.1,466.6C438.7,466.2 440.4,464.5 441.8,464.4C443.1,464.3 444.5,465.2 446.2,466.2C447.9,467.2 450.1,469.1 452.1,470.3C454.0,471.5 456.2,472.5 457.9,473.5C459.7,474.5 461.1,474.8 462.4,476.2C463.6,477.6 464.4,479.1 465.3,482.1C466.2,485.0 466.8,489.4 467.5,493.8C468.2,498.2 468.8,503.6 469.7,508.5C470.6,513.4 471.5,519.6 472.6,523.2C473.8,526.9 475.0,529.1 476.3,530.6C477.7,532.1 479.3,532.3 480.7,532.1C482.2,531.8 483.8,530.6 485.1,529.1C486.5,527.6 487.6,525.8 488.8,523.2C490.0,520.7 491.3,517.6 492.5,513.7C493.7,509.8 495.0,505.0 496.2,499.7C497.4,494.4 498.6,487.7 499.9,482.1C501.1,476.4 502.2,470.8 503.5,465.9C504.9,461.0 506.3,456.6 507.9,452.6C509.5,448.7 511.4,445.2 513.1,442.4C514.8,439.5 516.6,437.8 518.2,435.7C519.8,433.7 521.3,431.1 522.7,429.9C524.2,428.7 525.4,428.3 526.7,428.5C528.0,428.8 529.3,430.0 530.6,431.5C531.9,432.9 533.0,435.8 534.5,437.4C536.0,438.9 537.3,440.3 539.4,440.9C541.5,441.4 545.0,440.6 547.3,440.7C549.5,440.8 551.0,441.3 553.1,441.3C555.3,441.2 558.0,441.6 560.0,440.3C562.0,439.0 563.4,435.0 564.9,433.4C566.4,431.9 567.4,430.7 568.8,430.9C570.3,431.0 571.9,432.8 573.7,434.4C575.5,436.0 577.6,438.7 579.6,440.3C581.6,441.9 583.9,442.6 585.5,444.2C587.1,445.8 587.9,447.2 589.4,450.1C590.9,453.0 592.8,458.3 594.3,461.9C595.8,465.5 596.9,469.4 598.2,471.7C599.5,474.0 600.8,475.8 602.2,475.6C603.5,475.4 604.6,472.0 606.1,470.7C607.5,469.4 609.2,468.5 611.0,467.7C612.8,467.0 614.9,466.9 616.9,466.4C618.8,465.8 620.5,465.2 622.7,464.4C625.0,463.7 628.0,462.6 630.6,461.9C633.2,461.1 636.3,460.1 638.4,459.9C640.6,459.7 641.7,460.2 643.3,460.9C645.0,461.5 646.4,462.7 648.2,463.8C650.0,465.0 652.2,466.3 654.1,467.7C656.1,469.2 658.0,470.8 660.0,472.6C662.0,474.4 663.9,476.6 665.9,478.5C667.8,480.5 670.0,483.1 671.8,484.4C673.6,485.7 675.0,486.2 676.7,486.4C678.3,486.5 679.8,485.9 681.6,485.4C683.4,484.8 685.7,483.9 687.5,483.0C689.2,482.2 691.0,481.1 692.4,480.5C693.7,479.8 694.8,479.3 695.3,479.1" fill="none" stroke="#f3b55f" stroke-width="2.0" stroke-linejoin="round" stroke-linecap="butt"/>
<path d="M438.1,465.1C439.7,464.2 444.6,461.2 447.6,459.3C450.7,457.3 454.4,454.7 456.5,453.4C458.3,452.2 459.2,451.5 460.1,451.2C461.1,450.8 461.6,450.7 462.4,451.2C463.1,451.7 464.0,452.4 464.6,454.1C465.3,456.3 465.9,459.8 466.8,464.4C467.6,469.1 468.5,474.7 469.7,482.1C470.9,489.4 472.6,500.2 474.1,508.5C475.6,516.9 477.2,525.7 478.5,532.1C479.9,538.4 481.2,543.5 482.2,546.8C483.0,549.3 483.9,550.6 484.7,551.5C485.5,552.3 486.2,552.4 487.1,551.8C487.9,551.2 488.7,550.1 489.6,547.9C490.6,545.4 491.9,540.8 493.2,536.5C494.6,532.1 496.2,526.9 497.6,521.8C499.1,516.6 500.6,510.2 502.1,505.6C503.5,500.9 505.0,497.1 506.5,493.8C507.9,490.5 509.4,487.9 510.9,485.7C512.4,483.5 513.8,481.9 515.3,480.6C516.8,479.3 518.0,478.9 519.7,478.1C521.4,477.2 523.6,476.9 525.6,475.4C527.5,474.0 529.5,471.9 531.5,469.6C533.4,467.2 535.1,463.8 537.4,461.5C539.6,459.1 542.7,456.8 544.7,455.6C546.7,454.3 547.5,454.6 549.2,454.0C550.9,453.4 553.3,452.5 555.1,452.1C556.9,451.6 558.4,451.0 560.0,451.1C561.6,451.2 563.4,452.4 564.9,452.6C566.4,452.9 567.4,453.2 568.8,452.6C570.3,452.1 571.9,450.5 573.7,449.1C575.5,447.7 577.6,446.0 579.6,444.2C581.6,442.4 584.0,439.6 585.5,438.3C586.8,437.2 587.3,436.0 588.4,436.4C589.6,436.7 591.0,437.8 592.4,440.3C593.7,442.7 594.8,446.8 596.3,451.1C597.7,455.3 599.5,460.9 601.2,465.8C602.8,470.7 604.6,476.7 606.1,480.5C607.5,484.2 608.9,486.8 610.0,488.3C611.0,489.7 611.8,490.1 612.9,489.9C614.1,489.7 615.4,488.9 616.9,487.4C618.3,485.8 620.0,482.8 621.8,480.5C623.6,478.2 625.5,475.4 627.6,473.6C629.8,471.8 632.4,470.6 634.5,469.7C636.6,468.8 638.4,468.1 640.4,468.1C642.4,468.1 644.5,469.1 646.3,469.7C648.1,470.4 649.5,471.8 651.2,472.1C652.8,472.3 654.4,472.0 656.1,471.3C657.7,470.6 659.3,468.6 661.0,467.7C662.6,466.9 664.1,466.5 665.9,466.4C667.7,466.2 669.8,466.5 671.8,466.8C673.7,467.0 675.7,467.3 677.6,467.7C679.6,468.2 681.6,468.3 683.5,469.3C685.5,470.3 687.5,472.1 689.4,473.6C691.4,475.2 694.3,477.7 695.3,478.5" fill="none" stroke="#1c5482" stroke-width="2.0" stroke-linejoin="round" stroke-linecap="butt"/>
<line x1="463.3" y1="425.6" x2="497.3" y2="425.6" stroke="#e2111c" stroke-width="2.2" stroke-dasharray="6.8,2.4"/>
<text x="501.6" y="428.6" font-size="8.4" text-anchor="start" fill="#000" textLength="18.3" lengthAdjust="spacingAndGlyphs">Total</text>
<line x1="534.5" y1="425.6" x2="568.8" y2="425.6" stroke="#f3b55f" stroke-width="2.0"/>
<text x="572.7" y="428.6" font-size="8.4" text-anchor="start" fill="#000" textLength="18.0" lengthAdjust="spacingAndGlyphs">SOEs</text>
<line x1="605.1" y1="425.6" x2="639.4" y2="425.6" stroke="#1c5482" stroke-width="2.0"/>
<text x="642.7" y="428.6" font-size="8.4" text-anchor="start" fill="#000" textLength="26.1" lengthAdjust="spacingAndGlyphs">Private</text>
<text x="430.0" y="416.8" font-size="8.4" text-anchor="end" fill="#000">10</text>
<text x="430.0" y="451.2" font-size="8.4" text-anchor="end" fill="#000">5</text>
<text x="430.0" y="485.6" font-size="8.4" text-anchor="end" fill="#000">0</text>
<text x="430.0" y="520.0" font-size="8.4" text-anchor="end" fill="#000">-5</text>
<text x="430.0" y="554.4" font-size="8.4" text-anchor="end" fill="#000">-10</text>
<text x="430.0" y="588.8" font-size="8.4" text-anchor="end" fill="#000">-15</text>
<text x="443.3" y="601.1" font-size="8.4" text-anchor="middle" fill="#000">Nov-19</text>
<text x="506.2" y="601.1" font-size="8.4" text-anchor="middle" fill="#000">May-20</text>
<text x="569.1" y="601.1" font-size="8.4" text-anchor="middle" fill="#000">Nov-20</text>
<text x="632.0" y="601.1" font-size="8.4" text-anchor="middle" fill="#000">May-21</text>
<text x="694.9" y="601.1" font-size="8.4" text-anchor="middle" fill="#000">Nov-21</text>
</g>
</svg>

<div id="body">
<div style="word-spacing:1.824px"><b>On the supply side, growth in industrial production has moderated, while services sector</b></div>
<div style="word-spacing:0.898px"><b>activity has been mixed</b>. The two-year compound annual growth rate (2Y CAGR) of industrial</div>
<div style="word-spacing:-0.155px">production slowed to 4.8 percent in the third quarter from 6.1 percent in the first half. Meanwhile,</div>
<div style="word-spacing:0.369px">output in the services sector increased by 4.8 percent in 2Y CAGR in the third quarter, similar to</div>
<div style="word-spacing:2.128px">its performance in the first half of this year. On the positive side, activity in financial and IT</div>
<div style="word-spacing:0.462px">services stayed strong, while recurring travel restrictions weighed on hotel and catering services.</div>
<div style="word-spacing:0.797px">Output in the agricultural sector in 2Y CAGR expanded by 5.5 percent in the third quarter from</div>
<div>4.3 percent in the first six months of 2021.</div>
</div>
<div id="fnline"></div>
<div id="fn">
<div style="word-spacing:1.267px"><sup>1</sup> As the COVID-19 shock hit the Chinese economy most severely early last year, the year-on-year growth rate in</div>
<div style="word-spacing:0.037px">many macro indicators for the first half of this year can be distorted by large base effects. We therefore also calculate</div>
<div style="word-spacing:1.635px">the two-year compound annual growth rate (2Y CAGR) where appropriate to gauge the underlying growth trend</div>
<div>compared to the pre-pandemic period.</div>
</div>
<div id="pg" class="abs">15</div>
</body></html>
